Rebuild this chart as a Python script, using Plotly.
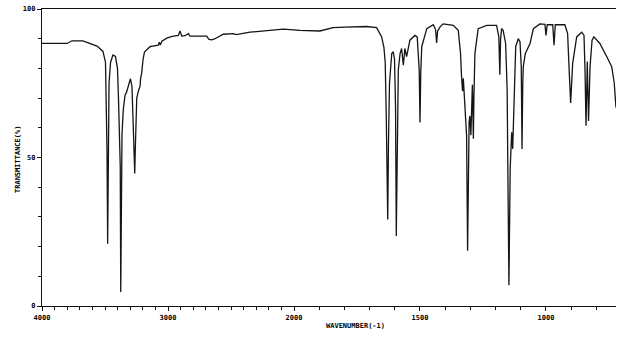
import plotly.graph_objects as go

# Wavenumber (cm-1) and transmittance (%)
wavenumber = [4000, 3802, 3762, 3675, 3563, 3516, 3496, 3488, 3484, 3479, 3474, 3468, 3456, 3437,
              3417, 3405, 3401, 3393, 3385, 3379, 3375, 3371, 3365, 3355, 3341, 3329, 3315, 3298,
              3286, 3275, 3267, 3264, 3260, 3248, 3234, 3222, 3217, 3209, 3198, 3187, 3143, 3103,
              3077, 3069, 3061, 3048, 3010, 2968, 2918, 2905, 2891, 2865, 2839, 2825, 2746, 2693,
              2675, 2651, 2627, 2561, 2482, 2460, 2349, 2217, 2087, 2000,
              1976, 1897, 1845, 1798, 1712, 1672, 1652, 1643, 1638, 1634, 1632, 1628, 1625, 1621,
              1612, 1606, 1601, 1597, 1594, 1591, 1586, 1579, 1573, 1566, 1560, 1553, 1540, 1520,
              1511, 1503, 1500, 1497, 1493, 1473, 1447, 1438, 1434, 1430, 1421, 1408, 1368, 1348,
              1339, 1335, 1331, 1328, 1321, 1319, 1315, 1311, 1308, 1305, 1302, 1298, 1292, 1288,
              1286, 1282, 1269, 1235, 1196, 1187, 1183, 1180, 1176, 1170, 1160, 1154, 1151, 1147,
              1142, 1136, 1132, 1128, 1120, 1110, 1103, 1098, 1095, 1092, 1090, 1082, 1063, 1050,
              1024, 1004, 1000, 995, 973, 968, 963, 925, 914, 908, 902, 894, 878, 858, 849, 845,
              841, 836, 831, 825, 817, 810, 786, 759, 739, 729, 722]
transmittance = [88.4, 88.4, 89.3, 89.3, 87.5, 85.7, 82.0, 60.0, 52.0, 21.0, 55.0, 75.0, 82.0, 84.5,
                 84.0, 81.0, 80.0, 70.0, 49.0, 47.0, 4.7, 45.0, 58.0, 66.0, 71.0, 72.0, 74.5, 76.5,
                 74.0, 60.0, 46.0, 44.6, 52.0, 70.0, 72.5, 74.0, 76.7, 78.4, 83.0, 85.5, 87.3, 87.6,
                 87.8, 88.8, 87.9, 89.2, 90.2, 90.8, 91.1, 92.6, 90.9, 91.0, 91.7, 90.9, 90.9, 90.9,
                 89.8, 89.6, 90.0, 91.5, 91.7, 91.4, 92.2, 92.6, 93.2, 93.0,
                 92.8, 92.6, 93.7, 93.9, 94.1, 93.7, 90.6, 87.0, 82.0, 65.0, 55.0, 29.1, 55.0, 75.0,
                 85.0, 85.6, 83.0, 67.0, 23.6, 55.0, 79.5, 85.0, 86.7, 81.1, 86.7, 84.0, 89.5, 91.1,
                 90.6, 79.5, 61.8, 78.0, 87.3, 93.4, 94.7, 93.0, 88.6, 92.5, 93.9, 95.0, 94.5, 92.8,
                 85.0, 77.3, 72.3, 76.7, 66.2, 63.5, 57.4, 18.6, 45.0, 62.0, 64.0, 57.5, 74.5, 56.3,
                 70.0, 85.0, 93.4, 94.5, 94.5, 90.6, 77.9, 90.0, 93.4, 92.8, 88.4, 72.9, 44.1, 7.0,
                 46.3, 58.5, 52.9, 63.5, 87.3, 90.0, 89.0, 80.6, 52.9, 75.0, 80.6, 85.0, 88.4, 93.4,
                 95.0, 94.8, 91.1, 94.7, 94.7, 87.8, 94.7, 94.7, 91.7, 79.5, 68.4, 81.7, 90.6, 92.2, 91.1, 79.5,
                 60.7, 82.3, 62.3, 80.6, 89.5, 90.6, 88.4, 84.0, 80.6, 75.1, 66.8]

high_ticks = [4000, 3000, 2000]
low_ticks = [1500, 1000]
y_ticks = [0, 50, 100]
y_title = "TRANSMITTANCE(%)"
x_title = "WAVENUMBER(-1)"

hi = [(w, t) for w, t in zip(wavenumber, transmittance) if w >= 2000]
lo = [(w, t) for w, t in zip(wavenumber, transmittance) if w <= 2000]

W, H = 637, 342
L, R, T, B = 42, 21, 5, 36
split = 252 / 574

font = dict(family="DejaVu Sans Mono", size=7, color="#000000", weight="bold")
line = dict(color="#151515", width=1.3)

fig = go.Figure()
fig.add_trace(go.Scatter(x=[p[0] for p in hi], y=[p[1] for p in hi], mode="lines",
                         line=line, xaxis="x", yaxis="y", showlegend=False, hoverinfo="skip"))
fig.add_trace(go.Scatter(x=[p[0] for p in lo], y=[p[1] for p in lo], mode="lines",
                         line=line, xaxis="x2", yaxis="y", showlegend=False, hoverinfo="skip"))

axis_common = dict(showline=True, linecolor="#111", linewidth=1.2, mirror=True,
                   showgrid=False, zeroline=False, ticks="outside", ticklen=4,
                   tickcolor="#111", tickwidth=1, tickfont=font)

fig.update_layout(
    width=W, height=H,
    margin=dict(l=L, r=R, t=T, b=B),
    paper_bgcolor="white", plot_bgcolor="white",
    xaxis=dict(domain=[0, split], range=[4000, 2000], tickmode="array", tickvals=high_ticks,
               ticktext=[str(v) for v in high_ticks],
               minor=dict(tickmode="linear", tick0=0, dtick=100, ticks="outside", ticklen=3,
                          tickcolor="#111"),
               anchor="y", **axis_common),
    xaxis2=dict(domain=[split, 1], range=[2000, 722], tickmode="array", tickvals=low_ticks,
                ticktext=[str(v) for v in low_ticks],
                minor=dict(tickmode="linear", tick0=0, dtick=100, ticks="outside", ticklen=3,
                           tickcolor="#111"),
                anchor="y", **axis_common),
    yaxis=dict(range=[0, 100], domain=[0, 1], tickmode="array", tickvals=y_ticks,
               ticktext=[str(v) for v in y_ticks], anchor="x",
               minor=dict(tickmode="linear", tick0=0, dtick=10, ticks="outside", ticklen=3,
                          tickcolor="#111"),
               showline=True, linecolor="#111", linewidth=1.2, mirror=False,
               showgrid=False, zeroline=False, ticks="outside", ticklen=4,
               tickcolor="#111", tickfont=font),
    annotations=[
        dict(text=y_title, xref="paper", yref="paper", x=(18 - L) / 574, y=0.495,
             textangle=-90, showarrow=False, font=font, xanchor="center", yanchor="middle"),
        dict(text=x_title, xref="paper", yref="paper", x=(356 - L) / 574, y=-20 / 301,
             showarrow=False, font=font, xanchor="center", yanchor="middle"),
    ],
)

fig.write_html("out.html", config={"displayModeBar": False},
               post_script="document.body.style.margin='0';document.body.style.overflow='hidden';")
